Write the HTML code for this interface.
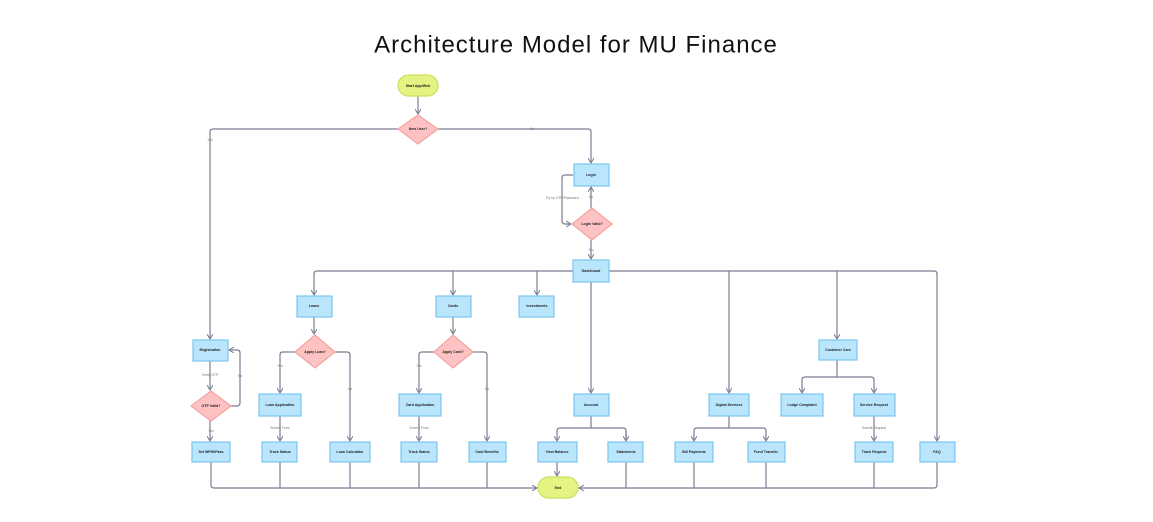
<!DOCTYPE html>
<html><head><meta charset="utf-8"><style>
html,body{margin:0;padding:0;background:#fff;}
svg{display:block}
.b{fill:#bae6fd;stroke:#7cc4f0;stroke-width:1.2}
.d{fill:#ffc2c2;stroke:#f4a3a3;stroke-width:1.2}
.p{fill:#e5f382;stroke:#cadf5c;stroke-width:1.2}
.l{fill:none;stroke:#7b7b92;stroke-width:1.2}
.t{font-family:"Liberation Sans",sans-serif;font-size:3.6px;font-weight:bold;fill:#222;text-anchor:middle;dominant-baseline:central}
.s{font-family:"Liberation Sans",sans-serif;font-size:3.4px;fill:#777;text-anchor:middle;dominant-baseline:central}
</style></head><body>
<svg width="1153" height="522" viewBox="0 0 1153 522" xmlns="http://www.w3.org/2000/svg">
<defs><marker id="a" markerWidth="6" markerHeight="6" refX="5" refY="3" orient="auto" markerUnits="userSpaceOnUse"><path d="M0,0 L5,3 L0,6" fill="none" stroke="#7b7b92" stroke-width="1"/></marker></defs>
<text x="576" y="45" font-family="Liberation Sans,sans-serif" font-size="24" letter-spacing="1" fill="#111" text-anchor="middle" dominant-baseline="central">Architecture Model for MU Finance</text>

<g class="l">
<path d="M418,96 V114" marker-end="url(#a)"/>
<path d="M398,129 H213 Q210,129 210,132 V339" marker-end="url(#a)"/>
<path d="M438,129 H588 Q591,129 591,132 V163" marker-end="url(#a)"/>
<path d="M573,175 H565 Q562,175 562,178 V221 Q562,224 565,224 H571" marker-end="url(#a)"/>
<path d="M591,208 V187" marker-end="url(#a)"/>
<path d="M591,240 V259" marker-end="url(#a)"/>
<path d="M573,271 H317 Q314,271 314,274 V295" marker-end="url(#a)"/>
<path d="M453,271 V295" marker-end="url(#a)"/>
<path d="M537,271 V295" marker-end="url(#a)"/>
<path d="M609,271 H934 Q937,271 937,274 V441" marker-end="url(#a)"/>
<path d="M729,271 V393" marker-end="url(#a)"/>
<path d="M837,271 V339" marker-end="url(#a)"/>
<path d="M591,282 V393" marker-end="url(#a)"/>
<path d="M314,317 V334" marker-end="url(#a)"/>
<path d="M453,317 V334" marker-end="url(#a)"/>
<path d="M295,352 H283 Q280,352 280,355 V393" marker-end="url(#a)"/>
<path d="M335,352 H347 Q350,352 350,355 V441" marker-end="url(#a)"/>
<path d="M434,352 H422 Q419,352 419,355 V393" marker-end="url(#a)"/>
<path d="M473,352 H484 Q487,352 487,355 V441" marker-end="url(#a)"/>
<path d="M280,416 V441" marker-end="url(#a)"/>
<path d="M419,416 V441" marker-end="url(#a)"/>
<path d="M210,361 V390" marker-end="url(#a)"/>
<path d="M231,406 H237 Q240,406 240,403 V353 Q240,350 237,350 H229" marker-end="url(#a)"/>
<path d="M210,421 V441" marker-end="url(#a)"/>
<path d="M591,416 V428 M560,428 H623 M557,431 Q557,428 560,428 M623,428 Q626,428 626,431 V441" />
<path d="M557,431 V441" marker-end="url(#a)"/>
<path d="M626,431 V441" marker-end="url(#a)"/>
<path d="M729,416 V428 M697,428 H763 M694,431 Q694,428 697,428 M763,428 Q766,428 766,431"/>
<path d="M694,431 V441" marker-end="url(#a)"/>
<path d="M766,431 V441" marker-end="url(#a)"/>
<path d="M837,360 V377 M805,377 H871 M802,380 Q802,377 805,377 M871,377 Q874,377 874,380"/>
<path d="M802,380 V393" marker-end="url(#a)"/>
<path d="M874,380 V393" marker-end="url(#a)"/>
<path d="M874,416 V441" marker-end="url(#a)"/>
<path d="M557,462 V476" marker-end="url(#a)"/>
<path d="M211,462 V485 Q211,488 214,488 H537" marker-end="url(#a)"/>
<path d="M280,462 V488 M350,462 V488 M419,462 V488 M487,462 V488"/>
<path d="M937,462 V485 Q937,488 934,488 H579" marker-end="url(#a)"/>
<path d="M626,462 V488 M694,462 V488 M766,462 V488 M874,462 V488"/>
</g>

<rect class="p" x="398" y="75" width="40" height="21" rx="10.5"/><text class="t" x="418" y="86">Start App/Web</text>
<polygon class="d" points="418,115 438,129 418,144 398,129"/><text class="t" x="418" y="129">New User?</text>
<rect class="b" x="574" y="164" width="35" height="22"/><text class="t" x="591" y="175">Login</text>
<polygon class="d" points="592,208 612,224 592,240 572,224"/><text class="t" x="592" y="224">Login Valid?</text>
<rect class="b" x="573" y="260" width="36" height="22"/><text class="t" x="591" y="271">Dashboard</text>
<rect class="b" x="297" y="296" width="35" height="21"/><text class="t" x="314" y="306">Loans</text>
<rect class="b" x="436" y="296" width="35" height="21"/><text class="t" x="453" y="306">Cards</text>
<rect class="b" x="519" y="296" width="35" height="21"/><text class="t" x="537" y="306">Investments</text>
<polygon class="d" points="315,335 335,352 315,368 295,352"/><text class="t" x="315" y="352">Apply Loan?</text>
<polygon class="d" points="453,335 473,352 453,368 434,352"/><text class="t" x="453" y="352">Apply Card?</text>
<rect class="b" x="193" y="340" width="35" height="21"/><text class="t" x="210" y="350">Registration</text>
<polygon class="d" points="211,391 231,406 211,421 191,406"/><text class="t" x="211" y="406">OTP Valid?</text>
<rect class="b" x="192" y="442" width="38" height="20"/><text class="t" x="211" y="452">Set MPIN/Pass</text>
<rect class="b" x="259" y="394" width="42" height="22"/><text class="t" x="280" y="405">Loan Application</text>
<rect class="b" x="262" y="442" width="35" height="20"/><text class="t" x="280" y="452">Track Status</text>
<rect class="b" x="330" y="442" width="40" height="20"/><text class="t" x="350" y="452">Loan Calculator</text>
<rect class="b" x="399" y="394" width="42" height="22"/><text class="t" x="420" y="405">Card Application</text>
<rect class="b" x="401" y="442" width="36" height="20"/><text class="t" x="419" y="452">Track Status</text>
<rect class="b" x="469" y="442" width="37" height="20"/><text class="t" x="487" y="452">Card Benefits</text>
<rect class="b" x="574" y="394" width="35" height="22"/><text class="t" x="591" y="405">Account</text>
<rect class="b" x="538" y="442" width="39" height="20"/><text class="t" x="557" y="452">View Balance</text>
<rect class="b" x="608" y="442" width="35" height="20"/><text class="t" x="626" y="452">Statements</text>
<rect class="b" x="709" y="394" width="40" height="22"/><text class="t" x="729" y="405">Digital Services</text>
<rect class="b" x="675" y="442" width="38" height="20"/><text class="t" x="694" y="452">Bill Payments</text>
<rect class="b" x="748" y="442" width="37" height="20"/><text class="t" x="766" y="452">Fund Transfer</text>
<rect class="b" x="819" y="340" width="38" height="20"/><text class="t" x="838" y="350">Customer Care</text>
<rect class="b" x="781" y="394" width="42" height="22"/><text class="t" x="802" y="405">Lodge Complaint</text>
<rect class="b" x="854" y="394" width="41" height="22"/><text class="t" x="874" y="405">Service Request</text>
<rect class="b" x="855" y="442" width="38" height="20"/><text class="t" x="874" y="452">Track Request</text>
<rect class="b" x="920" y="442" width="35" height="20"/><text class="t" x="937" y="452">FAQ</text>
<rect class="p" x="538" y="477" width="40" height="21" rx="10.5"/><text class="t" x="558" y="488">End</text>

<g class="s">
<text x="210" y="140">Yes</text><text x="532" y="129">No</text>
<text x="562" y="198">Try by OTP/Password</text><text x="591" y="197">No</text><text x="591" y="250">Yes</text>
<text x="210" y="375">Verify OTP</text><text x="240" y="376">No</text><text x="211" y="431">Yes</text>
<text x="280" y="366">Yes</text><text x="350" y="389">No</text><text x="280" y="428">Submit Form</text>
<text x="419" y="366">Yes</text><text x="487" y="389">No</text><text x="419" y="428">Submit Form</text>
<text x="874" y="428">Submit Request</text>
</g>
</svg>
</body></html>
